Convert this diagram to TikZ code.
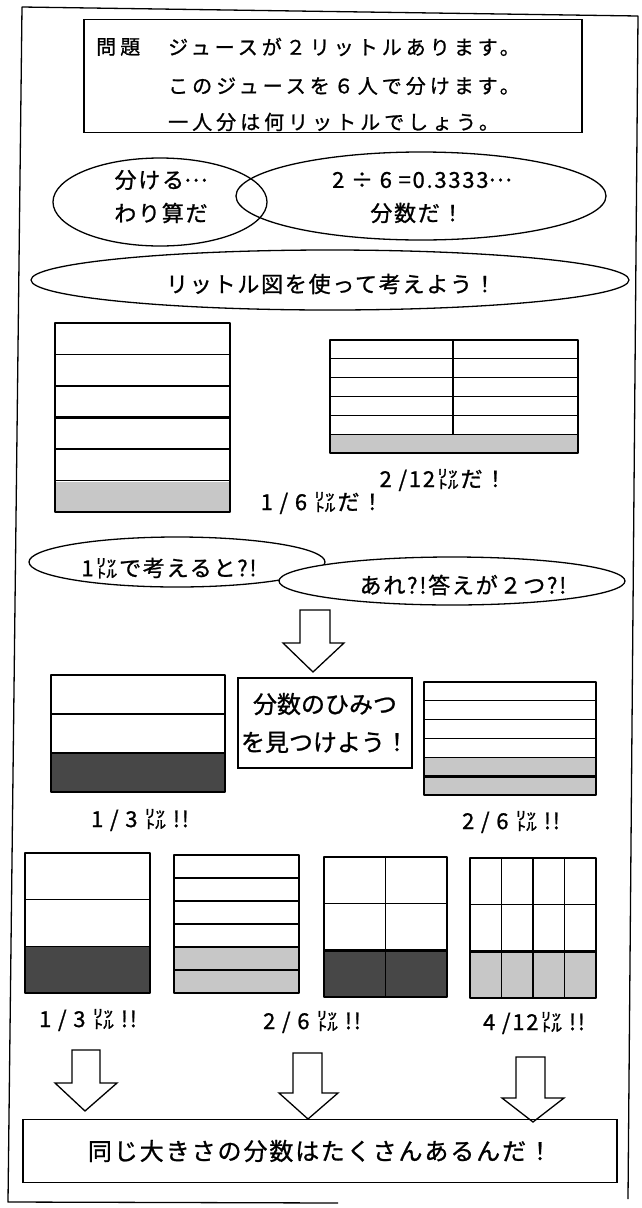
\documentclass[tikz,border=0pt]{standalone}
\usepackage{fontspec}
\setmainfont{Noto Sans CJK JP}
\newfontfamily\jpA[LetterSpace=20,FakeBold=1]{Noto Sans CJK JP}
\newfontfamily\jpB[LetterSpace=8,FakeBold=1]{Noto Sans CJK JP}
\newfontfamily\jpC[FakeBold=1]{Noto Sans CJK JP}
\newcommand{\midell}{\raisebox{0.3em}{…}}
\usetikzlibrary{shapes.geometric}
\tikzset{
  ln/.style={line width=1.3pt, line join=round},
  thk/.style={line width=2.6pt},
  lt/.style={fill=black!22},
  dk/.style={fill=black!72},
  oval/.style={draw, ellipse, line width=1.3pt, inner sep=0pt},
  tA/.style={inner sep=0pt, font=\jpA\fontsize{20}{24}\selectfont},
  tB/.style={inner sep=0pt, font=\jpB\fontsize{22}{26}\selectfont},
  rbox/.style={draw, line width=1.3pt, inner sep=0pt},
  arr/.style={draw, line width=1.3pt, fill=white, line join=miter},
}
\begin{document}
\begin{tikzpicture}[x=1pt,y=-1pt]
\useasboundingbox (0,0) rectangle (642,1208);
\fill[white] (0,0) rectangle (642,1208);
% outer frame
\draw[ln] (338,1203) -- (8,1202) -- (22,7) -- (638,16) -- (628,1199);

% problem box
\node[rbox, minimum width=498pt, minimum height=113pt] (prob) at (333,76) {};
\node[tA, anchor=west] (pt) at (96,47) {問題};
\node[tA, anchor=west] (p1) at (168,47) {ジュースが２リットルあります。};
\node[tA, anchor=west] (p2) at (168,86) {このジュースを６人で分けます。};
\node[tA, anchor=west] (p3) at (168,122) {一人分は何リットルでしょう。};

% two overlapping ellipses
\node[oval, minimum width=214pt, minimum height=88pt] (e1) at (160,202) {};
\node[oval, minimum width=370pt, minimum height=88pt] (e2) at (421,196) {};
\node[tB] (e1a) at (161,180) {分ける\midell};
\node[tB] (e1b) at (161,213) {わり算だ};
\node[tB] (e2a) at (422,180) {2 ÷ 6 =0.3333\midell};
\node[tB] (e2b) at (417,213) {分数だ！};

% ellipse 3
\node[oval, minimum width=598pt, minimum height=60pt] (e3) at (330,280) {};
\node[tB] (e3a) at (331,284) {リットル図を使って考えよう！};

% left 1/6 box
\fill[lt] (55,481.5) rectangle (230,512);
\draw[ln] (55,354.5) -- (230,354.5) (55,386) -- (230,386) (55,449) -- (230,449) (55,480.5) -- (230,480.5);
\draw[thk] (55,417.5) -- (230,417.5);
\draw[ln] (55,323) rectangle (230,512);

% right 2/12 box
\fill[lt] (330,434.2) rectangle (578,453);
\draw[ln] (330,358.8) -- (578,358.8) (330,377.7) -- (578,377.7) (330,396.5) -- (578,396.5) (330,415.3) -- (578,415.3) (330,434.2) -- (578,434.2);
\draw[ln] (453,340) -- (453,434.2);
\draw[ln] (330,340) rectangle (578,453);

\node[tB] (l212) at (443,480) {2 /12㍑だ！};
\node[tB] (l16) at (322,503) {1 / 6 ㍑だ！};

% ellipses 4 and 5
\node[oval, fill=white, minimum width=296pt, minimum height=50pt] (e4) at (177,562) {};
\node[tB] (e4a) at (169,568) {1㍑で考えると?!};
\node[oval, fill=white, minimum width=346pt, minimum height=48pt] (e5) at (452,581) {};
\node[tB] (e5a) at (463,585) {あれ?!答えが２つ?!};

% arrow 1
\draw[arr] (300,610) -- (330,610) -- (330,643) -- (344,643) -- (313,672) -- (283,643) -- (300,643) -- cycle;

% middle box
\node[rbox, minimum width=174pt, minimum height=90pt, align=center,
      font=\jpC\fontsize{24}{38}\selectfont] (himitsu) at (325,723) {分数のひみつ\\を見つけよう！};

% middle left 1/3 box
\fill[dk] (51,753) rectangle (225,792);
\draw[ln] (51,714) -- (225,714) (51,753) -- (225,753);
\draw[ln] (51,675) rectangle (225,792);
\node[tB] (m13) at (140,820) {1 / 3 ㍑ !!};

% middle right 2/6 box
\fill[lt] (424,757.3) rectangle (596,795);
\draw[ln] (424,700.8) -- (596,700.8) (424,719.7) -- (596,719.7) (424,738.5) -- (596,738.5) (424,757.3) -- (596,757.3);
\draw[thk] (424,776.2) -- (596,776.2);
\draw[ln] (424,682) rectangle (596,795);
\node[tB] (m26) at (511,822) {2 / 6 ㍑ !!};

% row 3 box A
\fill[dk] (25,946.3) rectangle (150,993);
\draw[ln] (25,899.7) -- (150,899.7) (25,946.3) -- (150,946.3);
\draw[ln] (25,853) rectangle (150,993);
\node[tB] (a13) at (88,1020) {1 / 3 ㍑ !!};

% row 3 box B
\fill[lt] (174,947) rectangle (299,993);
\draw[ln] (174,878) -- (299,878) (174,901) -- (299,901) (174,924) -- (299,924) (174,970) -- (299,970);
\draw[thk] (174,947) -- (299,947);
\draw[ln] (174,855) rectangle (299,993);

% row 3 box C
\fill[dk] (324,950.3) rectangle (447,997);
\draw[ln] (324,903.7) -- (447,903.7) (385.5,857) -- (385.5,997);
\draw[thk] (324,950.3) -- (447,950.3);
\draw[ln] (324,857) rectangle (447,997);
\node[tB] (c26) at (312,1022) {2 / 6 ㍑ !!};

% row 3 box D
\fill[lt] (470,951.3) rectangle (596,998);
\draw[ln] (470,904.7) -- (596,904.7) (501.5,858) -- (501.5,998) (533,858) -- (533,998) (564.5,858) -- (564.5,998);
\draw[thk] (470,951.3) -- (596,951.3);
\draw[ln] (470,858) rectangle (596,998);
\node[tB] (d412) at (534,1023) {4 /12㍑ !!};

% bottom arrows
\draw[arr] (72,1050) -- (100,1050) -- (100,1083) -- (117,1083) -- (85,1111) -- (55,1083) -- (72,1083) -- cycle;
\draw[arr] (293,1053) -- (322,1053) -- (322,1093) -- (338,1093) -- (308,1119) -- (279,1093) -- (293,1093) -- cycle;
\draw[arr] (516,1057) -- (545,1057) -- (545,1098) -- (564,1098) -- (533,1122) -- (502,1098) -- (516,1098) -- cycle;

% bottom box
\node[rbox, minimum width=594pt, minimum height=63pt,
      font=\jpB\fontsize{24}{28}\selectfont] (fin) at (320,1151) {同じ大きさの分数はたくさんあるんだ！};
\end{tikzpicture}
\end{document}
